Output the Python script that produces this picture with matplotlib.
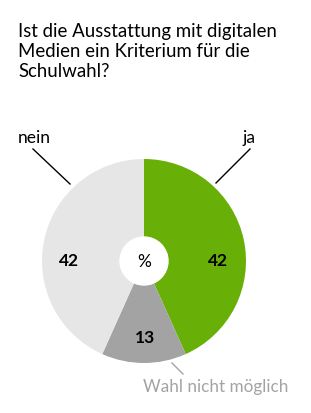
import numpy as np
import matplotlib
matplotlib.use("Agg")
import matplotlib.pyplot as plt
from matplotlib.patches import Circle

# Daten
kategorien = ["ja", "Wahl nicht möglich", "nein"]
werte = [42, 13, 42]
farben = ["#68AF08", "#A3A3A3", "#E6E6E6"]
titel = "Ist die Ausstattung mit digitalen\nMedien ein Kriterium für die\nSchulwahl?"

plt.rcParams['font.family'] = ['Lato', 'DejaVu Sans']

W, H = 311, 414


def main():
    fig = plt.figure(figsize=(W / 100, H / 100), dpi=100)
    ax = fig.add_axes([0, 0, 1, 1])

    cx, cy, r = 144, H - 262, 102

    ax.pie(werte, colors=farben, startangle=90, counterclock=False,
           center=(cx, cy), radius=r, frame=True,
           wedgeprops=dict(linewidth=0))
    ax.set_xlim(0, W)
    ax.set_ylim(0, H)
    ax.set_aspect('equal')
    ax.axis('off')

    # weisser Kreis in der Mitte
    ax.add_patch(Circle((cx, cy), 24, color="white", zorder=5))
    ax.text(cx, cy, "%", ha='center', va='center', fontsize=12.5, zorder=6)

    # Werte in den Segmenten
    wert_pos = [(218, H - 261), (145, H - 338), (69, H - 261)]
    for (x, y), v in zip(wert_pos, werte):
        ax.text(x, y, str(v), ha='center', va='center', fontsize=12.5,
                fontweight='bold', color='black')

    # Beschriftungen mit Linien
    ax.text(18, H - 138, kategorien[2], ha='left', va='center', fontsize=12.6)
    ax.plot([33, 70], [H - 150, H - 185], color='black', lw=1)
    ax.text(256, H - 138, kategorien[0], ha='right', va='center', fontsize=12.6)
    ax.plot([250, 216], [H - 150, H - 184], color='black', lw=1)
    ax.text(143, H - 387, kategorien[1], ha='left', va='center', fontsize=12.3,
            color='#A3A3A3')
    ax.plot([172, 183], [H - 364, H - 375], color='#A3A3A3', lw=1)

    # Titel
    ax.text(18, H - 23, titel, ha='left', va='top', fontsize=13.4,
            linespacing=1.22, color='black')

    fig.savefig("out.png", dpi=100)


if __name__ == "__main__":
    main()
